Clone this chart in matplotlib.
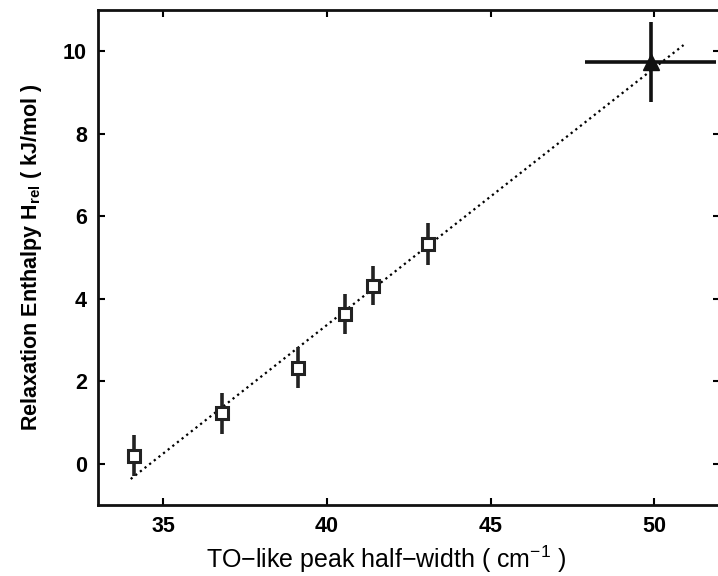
import matplotlib
matplotlib.use("Agg")
import matplotlib.pyplot as plt

# measured points (squares) with vertical error bars
half_width = [34.1, 36.8, 39.1, 40.55, 41.4, 43.1]
enthalpy = [0.2, 1.22, 2.33, 3.63, 4.32, 5.33]
enthalpy_err = [0.5, 0.5, 0.5, 0.48, 0.48, 0.5]

# single extra point (triangle) with errors in both directions
tri_x = [49.9]
tri_y = [9.74]
tri_xerr = [2.0]
tri_yerr = [0.97]

# dotted fit line end points
fit_x = [34.0, 50.9]
fit_y = [-0.37, 10.15]

xticks = [35, 40, 45, 50]
yticks = [0, 2, 4, 6, 8, 10]

plt.rcParams['font.family'] = ['Liberation Sans', 'DejaVu Sans']
plt.rcParams['mathtext.fontset'] = 'custom'
plt.rcParams['mathtext.rm'] = 'Liberation Sans'
plt.rcParams['mathtext.bf'] = 'Liberation Sans:bold'

fig = plt.figure(figsize=(7.18, 5.76), dpi=100)
ax = fig.add_axes([98 / 718, 1 - 505 / 576, 621.5 / 718, 495 / 576])

ax.plot(fit_x, fit_y, linestyle=':', color='black', linewidth=1.6)

ax.errorbar(half_width, enthalpy, yerr=enthalpy_err, fmt='s', color='#222222',
            markerfacecolor='white', markeredgecolor='#222222', markersize=8,
            markeredgewidth=2.2, elinewidth=2.6, capsize=0, zorder=3)

ax.errorbar(tri_x, tri_y, xerr=tri_xerr, yerr=tri_yerr, fmt='^', color='#111111',
            markersize=11, elinewidth=2.6, capsize=0, zorder=3)

ax.set_xlim(33, 52)
ax.set_ylim(-1, 11)
ax.set_xticks(xticks)
ax.set_yticks(yticks)

ax.tick_params(direction='in', top=True, right=True, length=5, width=1.5,
               labelsize=15.5, pad=8)
for lab in ax.get_xticklabels() + ax.get_yticklabels():
    lab.set_fontweight('bold')
for sp in ax.spines.values():
    sp.set_linewidth(2)
    sp.set_color('#111111')

ax.set_ylabel(r'Relaxation Enthalpy $\mathbf{H}_{\mathbf{rel}}$ ( kJ/mol )',
              fontsize=15.5, fontweight='bold')
ax.yaxis.set_label_coords(-0.087, 0.5)
ax.set_xlabel(r'TO$-$like peak half$-$width ( cm$^{-1}$ )', fontsize=18)
ax.xaxis.set_label_coords(0.463, -0.078)

fig.savefig('out.png', dpi=100)
